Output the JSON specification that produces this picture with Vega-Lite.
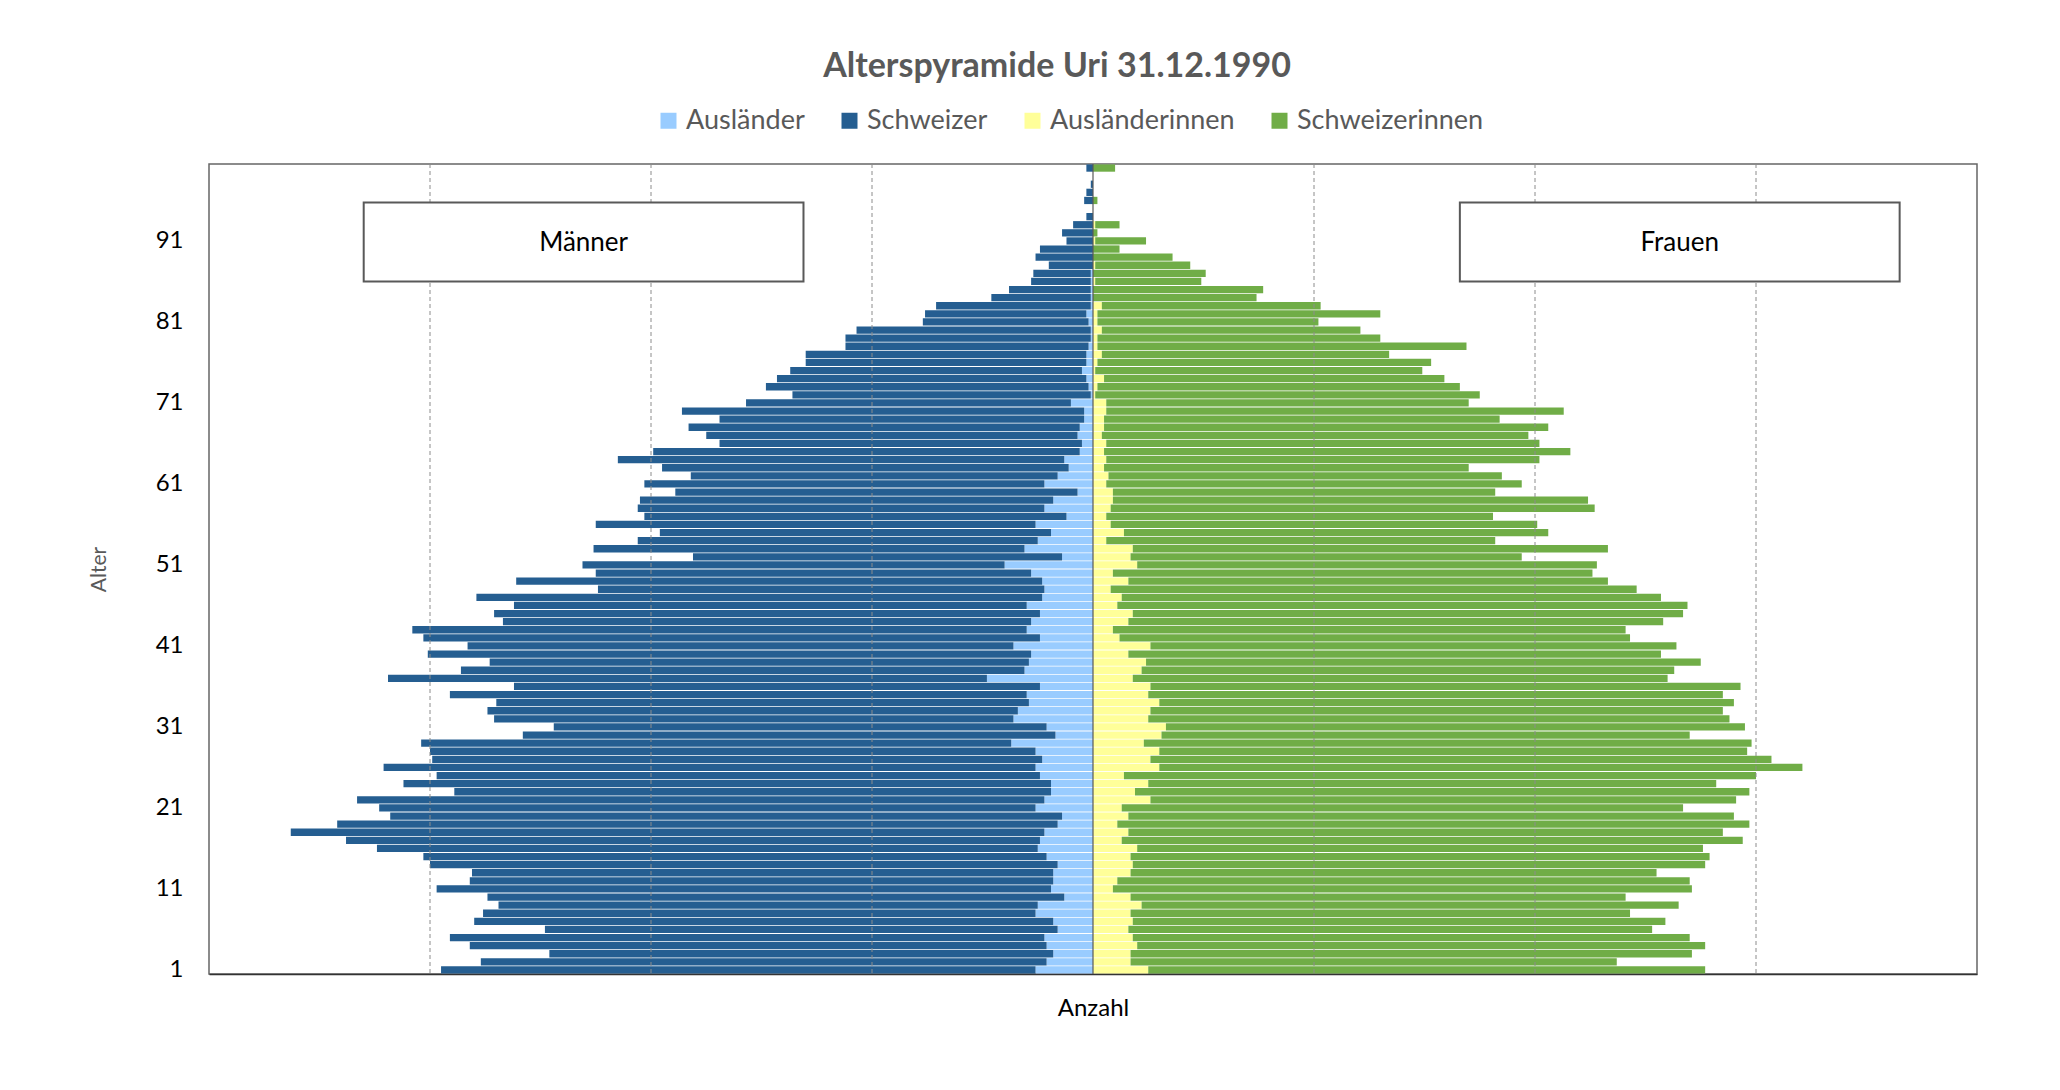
{
  "$schema": "https://vega.github.io/schema/vega-lite/v6.json",
  "width": 1768,
  "height": 810,
  "autosize": {"type": "none"},
  "padding": {"left": 209, "top": 164, "right": 83, "bottom": 116},
  "background": "white",
  "title": {"text": "Alterspyramide Uri 31.12.1990", "fontSize": 34, "fontWeight": "bold", "color": "#595959", "font": "Lato", "anchor": "middle", "dx": -36, "offset": -4, "baseline": "alphabetic"},
  "config": {"font": "Lato", "view": {"stroke": "#666666", "strokeWidth": 1.5}},
  "datasets": {
    "pyramide": [
      {"Alter":1,"Ausländer":-26,"Schweizer":-269,"Ausländerinnen":25,"Schweizerinnen":252},
      {"Alter":2,"Ausländer":-21,"Schweizer":-256,"Ausländerinnen":17,"Schweizerinnen":220},
      {"Alter":3,"Ausländer":-18,"Schweizer":-228,"Ausländerinnen":17,"Schweizerinnen":254},
      {"Alter":4,"Ausländer":-21,"Schweizer":-261,"Ausländerinnen":20,"Schweizerinnen":257},
      {"Alter":5,"Ausländer":-22,"Schweizer":-269,"Ausländerinnen":18,"Schweizerinnen":252},
      {"Alter":6,"Ausländer":-16,"Schweizer":-232,"Ausländerinnen":16,"Schweizerinnen":237},
      {"Alter":7,"Ausländer":-18,"Schweizer":-262,"Ausländerinnen":18,"Schweizerinnen":241},
      {"Alter":8,"Ausländer":-26,"Schweizer":-250,"Ausländerinnen":17,"Schweizerinnen":226},
      {"Alter":9,"Ausländer":-25,"Schweizer":-244,"Ausländerinnen":22,"Schweizerinnen":243},
      {"Alter":10,"Ausländer":-13,"Schweizer":-261,"Ausländerinnen":17,"Schweizerinnen":224},
      {"Alter":11,"Ausländer":-19,"Schweizer":-278,"Ausländerinnen":9,"Schweizerinnen":262},
      {"Alter":12,"Ausländer":-18,"Schweizer":-264,"Ausländerinnen":11,"Schweizerinnen":259},
      {"Alter":13,"Ausländer":-18,"Schweizer":-263,"Ausländerinnen":17,"Schweizerinnen":238},
      {"Alter":14,"Ausländer":-16,"Schweizer":-284,"Ausländerinnen":18,"Schweizerinnen":259},
      {"Alter":15,"Ausländer":-21,"Schweizer":-282,"Ausländerinnen":17,"Schweizerinnen":262},
      {"Alter":16,"Ausländer":-25,"Schweizer":-299,"Ausländerinnen":20,"Schweizerinnen":256},
      {"Alter":17,"Ausländer":-24,"Schweizer":-314,"Ausländerinnen":13,"Schweizerinnen":281},
      {"Alter":18,"Ausländer":-22,"Schweizer":-341,"Ausländerinnen":16,"Schweizerinnen":269},
      {"Alter":19,"Ausländer":-16,"Schweizer":-326,"Ausländerinnen":11,"Schweizerinnen":286},
      {"Alter":20,"Ausländer":-14,"Schweizer":-304,"Ausländerinnen":16,"Schweizerinnen":274},
      {"Alter":21,"Ausländer":-26,"Schweizer":-297,"Ausländerinnen":13,"Schweizerinnen":254},
      {"Alter":22,"Ausländer":-22,"Schweizer":-311,"Ausländerinnen":26,"Schweizerinnen":265},
      {"Alter":23,"Ausländer":-19,"Schweizer":-270,"Ausländerinnen":19,"Schweizerinnen":278},
      {"Alter":24,"Ausländer":-19,"Schweizer":-293,"Ausländerinnen":25,"Schweizerinnen":257},
      {"Alter":25,"Ausländer":-24,"Schweizer":-273,"Ausländerinnen":14,"Schweizerinnen":286},
      {"Alter":26,"Ausländer":-26,"Schweizer":-295,"Ausländerinnen":30,"Schweizerinnen":291},
      {"Alter":27,"Ausländer":-23,"Schweizer":-276,"Ausländerinnen":26,"Schweizerinnen":281},
      {"Alter":28,"Ausländer":-26,"Schweizer":-274,"Ausländerinnen":30,"Schweizerinnen":266},
      {"Alter":29,"Ausländer":-37,"Schweizer":-267,"Ausländerinnen":23,"Schweizerinnen":275},
      {"Alter":30,"Ausländer":-17,"Schweizer":-241,"Ausländerinnen":31,"Schweizerinnen":239},
      {"Alter":31,"Ausländer":-21,"Schweizer":-223,"Ausländerinnen":33,"Schweizerinnen":262},
      {"Alter":32,"Ausländer":-36,"Schweizer":-235,"Ausländerinnen":25,"Schweizerinnen":263},
      {"Alter":33,"Ausländer":-34,"Schweizer":-240,"Ausländerinnen":26,"Schweizerinnen":259},
      {"Alter":34,"Ausländer":-29,"Schweizer":-241,"Ausländerinnen":30,"Schweizerinnen":260},
      {"Alter":35,"Ausländer":-30,"Schweizer":-261,"Ausländerinnen":25,"Schweizerinnen":260},
      {"Alter":36,"Ausländer":-24,"Schweizer":-238,"Ausländerinnen":26,"Schweizerinnen":267},
      {"Alter":37,"Ausländer":-48,"Schweizer":-271,"Ausländerinnen":18,"Schweizerinnen":242},
      {"Alter":38,"Ausländer":-31,"Schweizer":-255,"Ausländerinnen":22,"Schweizerinnen":241},
      {"Alter":39,"Ausländer":-29,"Schweizer":-244,"Ausländerinnen":24,"Schweizerinnen":251},
      {"Alter":40,"Ausländer":-28,"Schweizer":-273,"Ausländerinnen":16,"Schweizerinnen":241},
      {"Alter":41,"Ausländer":-36,"Schweizer":-247,"Ausländerinnen":26,"Schweizerinnen":238},
      {"Alter":42,"Ausländer":-24,"Schweizer":-279,"Ausländerinnen":12,"Schweizerinnen":231},
      {"Alter":43,"Ausländer":-30,"Schweizer":-278,"Ausländerinnen":9,"Schweizerinnen":232},
      {"Alter":44,"Ausländer":-28,"Schweizer":-239,"Ausländerinnen":16,"Schweizerinnen":242},
      {"Alter":45,"Ausländer":-24,"Schweizer":-247,"Ausländerinnen":18,"Schweizerinnen":249},
      {"Alter":46,"Ausländer":-30,"Schweizer":-232,"Ausländerinnen":11,"Schweizerinnen":258},
      {"Alter":47,"Ausländer":-23,"Schweizer":-256,"Ausländerinnen":13,"Schweizerinnen":244},
      {"Alter":48,"Ausländer":-22,"Schweizer":-202,"Ausländerinnen":8,"Schweizerinnen":238},
      {"Alter":49,"Ausländer":-23,"Schweizer":-238,"Ausländerinnen":16,"Schweizerinnen":217},
      {"Alter":50,"Ausländer":-28,"Schweizer":-197,"Ausländerinnen":9,"Schweizerinnen":217},
      {"Alter":51,"Ausländer":-40,"Schweizer":-191,"Ausländerinnen":20,"Schweizerinnen":208},
      {"Alter":52,"Ausländer":-14,"Schweizer":-167,"Ausländerinnen":17,"Schweizerinnen":177},
      {"Alter":53,"Ausländer":-31,"Schweizer":-195,"Ausländerinnen":18,"Schweizerinnen":215},
      {"Alter":54,"Ausländer":-25,"Schweizer":-181,"Ausländerinnen":6,"Schweizerinnen":176},
      {"Alter":55,"Ausländer":-19,"Schweizer":-177,"Ausländerinnen":14,"Schweizerinnen":192},
      {"Alter":56,"Ausländer":-26,"Schweizer":-199,"Ausländerinnen":8,"Schweizerinnen":193},
      {"Alter":57,"Ausländer":-12,"Schweizer":-191,"Ausländerinnen":6,"Schweizerinnen":175},
      {"Alter":58,"Ausländer":-22,"Schweizer":-184,"Ausländerinnen":8,"Schweizerinnen":219},
      {"Alter":59,"Ausländer":-18,"Schweizer":-187,"Ausländerinnen":9,"Schweizerinnen":215},
      {"Alter":60,"Ausländer":-7,"Schweizer":-182,"Ausländerinnen":9,"Schweizerinnen":173},
      {"Alter":61,"Ausländer":-22,"Schweizer":-181,"Ausländerinnen":6,"Schweizerinnen":188},
      {"Alter":62,"Ausländer":-16,"Schweizer":-166,"Ausländerinnen":7,"Schweizerinnen":178},
      {"Alter":63,"Ausländer":-11,"Schweizer":-184,"Ausländerinnen":5,"Schweizerinnen":165},
      {"Alter":64,"Ausländer":-13,"Schweizer":-202,"Ausländerinnen":6,"Schweizerinnen":196},
      {"Alter":65,"Ausländer":-6,"Schweizer":-193,"Ausländerinnen":5,"Schweizerinnen":211},
      {"Alter":66,"Ausländer":-5,"Schweizer":-164,"Ausländerinnen":6,"Schweizerinnen":196},
      {"Alter":67,"Ausländer":-7,"Schweizer":-168,"Ausländerinnen":4,"Schweizerinnen":193},
      {"Alter":68,"Ausländer":-6,"Schweizer":-177,"Ausländerinnen":5,"Schweizerinnen":201},
      {"Alter":69,"Ausländer":-4,"Schweizer":-165,"Ausländerinnen":5,"Schweizerinnen":179},
      {"Alter":70,"Ausländer":-4,"Schweizer":-182,"Ausländerinnen":6,"Schweizerinnen":207},
      {"Alter":71,"Ausländer":-10,"Schweizer":-147,"Ausländerinnen":6,"Schweizerinnen":164},
      {"Alter":72,"Ausländer":-1,"Schweizer":-135,"Ausländerinnen":1,"Schweizerinnen":174},
      {"Alter":73,"Ausländer":-2,"Schweizer":-146,"Ausländerinnen":2,"Schweizerinnen":164},
      {"Alter":74,"Ausländer":-3,"Schweizer":-140,"Ausländerinnen":5,"Schweizerinnen":154},
      {"Alter":75,"Ausländer":-5,"Schweizer":-132,"Ausländerinnen":1,"Schweizerinnen":148},
      {"Alter":76,"Ausländer":-3,"Schweizer":-127,"Ausländerinnen":2,"Schweizerinnen":151},
      {"Alter":77,"Ausländer":-3,"Schweizer":-127,"Ausländerinnen":4,"Schweizerinnen":130},
      {"Alter":78,"Ausländer":-2,"Schweizer":-110,"Ausländerinnen":2,"Schweizerinnen":167},
      {"Alter":79,"Ausländer":-1,"Schweizer":-111,"Ausländerinnen":2,"Schweizerinnen":128},
      {"Alter":80,"Ausländer":-1,"Schweizer":-106,"Ausländerinnen":4,"Schweizerinnen":117},
      {"Alter":81,"Ausländer":-2,"Schweizer":-75,"Ausländerinnen":2,"Schweizerinnen":100},
      {"Alter":82,"Ausländer":-3,"Schweizer":-73,"Ausländerinnen":2,"Schweizerinnen":128},
      {"Alter":83,"Ausländer":-1,"Schweizer":-70,"Ausländerinnen":4,"Schweizerinnen":99},
      {"Alter":84,"Ausländer":-1,"Schweizer":-45,"Ausländerinnen":0,"Schweizerinnen":74},
      {"Alter":85,"Ausländer":-1,"Schweizer":-37,"Ausländerinnen":0,"Schweizerinnen":77},
      {"Alter":86,"Ausländer":-1,"Schweizer":-27,"Ausländerinnen":1,"Schweizerinnen":48},
      {"Alter":87,"Ausländer":-1,"Schweizer":-26,"Ausländerinnen":0,"Schweizerinnen":51},
      {"Alter":88,"Ausländer":0,"Schweizer":-20,"Ausländerinnen":1,"Schweizerinnen":43},
      {"Alter":89,"Ausländer":0,"Schweizer":-26,"Ausländerinnen":0,"Schweizerinnen":36},
      {"Alter":90,"Ausländer":0,"Schweizer":-24,"Ausländerinnen":0,"Schweizerinnen":12},
      {"Alter":91,"Ausländer":0,"Schweizer":-12,"Ausländerinnen":1,"Schweizerinnen":23},
      {"Alter":92,"Ausländer":0,"Schweizer":-14,"Ausländerinnen":0,"Schweizerinnen":2},
      {"Alter":93,"Ausländer":0,"Schweizer":-9,"Ausländerinnen":1,"Schweizerinnen":11},
      {"Alter":94,"Ausländer":0,"Schweizer":-3,"Ausländerinnen":0,"Schweizerinnen":0},
      {"Alter":95,"Ausländer":0,"Schweizer":0,"Ausländerinnen":0,"Schweizerinnen":0},
      {"Alter":96,"Ausländer":0,"Schweizer":-4,"Ausländerinnen":0,"Schweizerinnen":2},
      {"Alter":97,"Ausländer":0,"Schweizer":-3,"Ausländerinnen":0,"Schweizerinnen":0},
      {"Alter":98,"Ausländer":0,"Schweizer":-1,"Ausländerinnen":0,"Schweizerinnen":0},
      {"Alter":99,"Ausländer":0,"Schweizer":0,"Ausländerinnen":0,"Schweizerinnen":0},
      {"Alter":100,"Ausländer":0,"Schweizer":-3,"Ausländerinnen":0,"Schweizerinnen":10}
    ]
  },
  "layer": [
    {
      "data": {"name": "pyramide"},
      "transform": [{"fold": ["Ausländer", "Schweizer", "Ausländerinnen", "Schweizerinnen"], "as": ["Gruppe", "Anzahl"]}],
      "mark": {"type": "bar"},
      "encoding": {
        "y": {
          "field": "Alter", "type": "ordinal", "sort": "descending",
          "scale": {"paddingInner": 0.1, "paddingOuter": 0.05},
          "axis": {
            "values": [1, 11, 21, 31, 41, 51, 61, 71, 81, 91],
            "ticks": false, "domain": false, "grid": false,
            "labelFontSize": 24, "labelColor": "#000000", "labelPadding": 26, "labelAngle": 0,
            "title": "Alter", "titleFontSize": 21, "titleFontWeight": "normal", "titleColor": "#595959", "titlePadding": 46
          }
        },
        "x": {
          "field": "Anzahl", "type": "quantitative", "stack": "zero", "title": "Anzahl",
          "scale": {"domain": [-400, 400], "nice": false},
          "axis": {"labels": false, "ticks": false, "grid": false, "domain": true, "domainColor": "#333333", "domainWidth": 1.5,
                   "titleFontSize": 24, "titleFontWeight": "normal", "titleColor": "#000000", "titlePadding": 22}
        },
        "order": {"field": "Gruppe", "sort": "ascending"},
        "color": {
          "field": "Gruppe", "type": "nominal",
          "scale": {"domain": ["Ausländer", "Schweizer", "Ausländerinnen", "Schweizerinnen"], "range": ["#99CCFF", "#255E91", "#FFFF99", "#70AD47"]},
          "legend": {"orient": "none", "legendX": 446, "legendY": -57, "direction": "horizontal", "title": null,
                     "symbolType": "square", "symbolSize": 256, "symbolStrokeWidth": 0, "labelLimit": 0,
                     "labelFontSize": 27, "labelColor": "#595959", "columnPadding": 31, "labelOffset": 4}
        }
      }
    },
    {
      "data": {"values": [{"Anzahl": -300}, {"Anzahl": -200}, {"Anzahl": -100}, {"Anzahl": 100}, {"Anzahl": 200}, {"Anzahl": 300}]},
      "mark": {"type": "rule", "color": "#8c8c8c", "strokeDash": [4, 3], "strokeWidth": 1},
      "encoding": {"x": {"field": "Anzahl", "type": "quantitative", "title": "Anzahl"}}
    },
    {
      "data": {"values": [{"Anzahl": 0}]},
      "mark": {"type": "rule", "color": "#595959", "strokeWidth": 1.2},
      "encoding": {"x": {"field": "Anzahl", "type": "quantitative", "title": "Anzahl"}}
    },
    {
      "data": {"values": [
        {"Text": "Männer", "von": -330, "bis": -131, "unten": 86.0, "oben": 95.75, "mitteX": -230.5, "mitteY": 90.7},
        {"Text": "Frauen", "von": 166, "bis": 365, "unten": 86.0, "oben": 95.75, "mitteX": 265.5, "mitteY": 90.7}
      ]},
      "layer": [
        {
          "mark": {"type": "rect", "fill": "white", "stroke": "#595959", "strokeWidth": 2},
          "encoding": {
            "x": {"field": "von", "type": "quantitative", "title": "Anzahl"},
            "x2": {"field": "bis"},
            "y": {"field": "unten", "type": "quantitative", "scale": {"domain": [0.5, 100.5], "nice": false, "zero": false}, "axis": null},
            "y2": {"field": "oben"}
          }
        },
        {
          "mark": {"type": "text", "fontSize": 26, "color": "#000000", "align": "center", "baseline": "middle"},
          "encoding": {
            "x": {"field": "mitteX", "type": "quantitative", "title": "Anzahl"},
            "y": {"field": "mitteY", "type": "quantitative", "scale": {"domain": [0.5, 100.5], "nice": false, "zero": false}, "axis": null},
            "text": {"field": "Text"}
          }
        }
      ]
    }
  ],
  "resolve": {"scale": {"y": "independent"}}
}
